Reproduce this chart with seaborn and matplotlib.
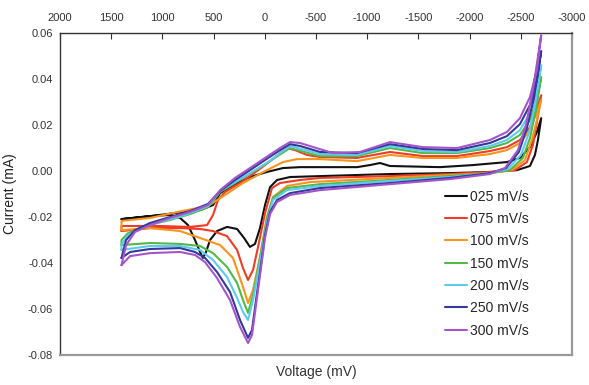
import pandas as pd
import matplotlib
matplotlib.use('Agg')
import matplotlib.pyplot as plt
import seaborn as sns
from matplotlib.ticker import FormatStrFormatter


RATES = ['025 mV/s', '075 mV/s', '100 mV/s', '150 mV/s', '200 mV/s', '250 mV/s', '300 mV/s']
COLORS = ['#111111', '#f03c26', '#f7941d', '#52b848', '#5ccbef', '#35379a', '#a356c8']

X_TICKS = [2000, 1500, 1000, 500, 0, -500, -1000, -1500, -2000, -2500, -3000]
Y_TICKS = [0.06, 0.04, 0.02, 0.00, -0.02, -0.04, -0.06, -0.08]

# (voltage mV, current mA), one closed loop per scan rate
LOOP_025 = [(1400, -0.0209), (1121, -0.0196), (926, -0.0191), (828, -0.0204), (750, -0.0235),
            (682, -0.0300), (633, -0.0352), (604, -0.0378), (574, -0.0352), (535, -0.0300),
            (467, -0.0261), (369, -0.0243), (271, -0.0252), (203, -0.0291), (145, -0.0330),
            (96, -0.0317), (47, -0.0248), (-2, -0.0148), (-51, -0.0070), (-119, -0.0039),
            (-246, -0.0026), (-539, -0.0022), (-1222, -0.0013), (-1809, -0.0009), (-2199, -0.0004),
            (-2463, 0.0004), (-2590, 0.0022), (-2639, 0.0070), (-2668, 0.0135), (-2700, 0.0230),
            (-2658, 0.0170), (-2590, 0.0104), (-2492, 0.0057), (-2365, 0.0039), (-2033, 0.0026),
            (-1711, 0.0017), (-1222, 0.0022), (-1125, 0.0035), (-1027, 0.0026), (-900, 0.0017),
            (-539, 0.0017), (-344, 0.0017), (-177, 0.0013), (-21, -0.0004), (145, -0.0026),
            (311, -0.0061), (437, -0.0096), (506, -0.0148), (633, -0.0170), (877, -0.0183),
            (1121, -0.0196), (1400, -0.0209)]

LOOP_075 = [(1400, -0.0261), (1121, -0.0248), (828, -0.0248), (633, -0.0252), (506, -0.0261),
            (369, -0.0283), (271, -0.0343), (213, -0.0422), (164, -0.0474), (115, -0.0430),
            (66, -0.0330), (-2, -0.0183), (-70, -0.0074), (-148, -0.0052), (-344, -0.0039),
            (-539, -0.0030), (-1222, -0.0022), (-1809, -0.0013), (-2199, -0.0004), (-2443, 0.0004),
            (-2560, 0.0039), (-2619, 0.0113), (-2658, 0.0213), (-2700, 0.0330),
            (-2658, 0.0274), (-2590, 0.0191), (-2492, 0.0135), (-2365, 0.0104), (-2199, 0.0087),
            (-1877, 0.0065), (-1545, 0.0065), (-1222, 0.0083), (-900, 0.0057), (-539, 0.0061),
            (-412, 0.0070), (-295, 0.0091), (-217, 0.0100), (-148, 0.0078), (-2, 0.0026),
            (145, -0.0022), (242, -0.0052), (389, -0.0091), (457, -0.0126), (506, -0.0191),
            (564, -0.0235), (730, -0.0243), (1023, -0.0239), (1400, -0.0239), (1400, -0.0261)]

LOOP_100 = [(1400, -0.0257), (1121, -0.0248), (828, -0.0261), (633, -0.0291), (437, -0.0322),
            (311, -0.0378), (213, -0.0504), (164, -0.0574), (115, -0.0517), (47, -0.0374),
            (-21, -0.0200), (-80, -0.0113), (-217, -0.0065), (-441, -0.0048), (-1222, -0.0030),
            (-1809, -0.0017), (-2199, -0.0009), (-2414, 0.0004), (-2541, 0.0048), (-2609, 0.0135),
            (-2658, 0.0222), (-2700, 0.0309),
            (-2658, 0.0257), (-2590, 0.0178), (-2492, 0.0122), (-2365, 0.0091), (-2199, 0.0074),
            (-1877, 0.0057), (-1545, 0.0057), (-1222, 0.0070), (-900, 0.0043), (-539, 0.0052),
            (-314, 0.0052), (-177, 0.0039), (-21, 0.0004), (213, -0.0052), (389, -0.0104),
            (555, -0.0152), (809, -0.0174), (1121, -0.0204), (1400, -0.0217), (1400, -0.0257)]

LOOP_150 = [(1400, -0.0322), (1121, -0.0313), (828, -0.0317), (633, -0.0326), (506, -0.0357),
            (369, -0.0417), (271, -0.0487), (213, -0.0561), (164, -0.0617), (115, -0.0539),
            (47, -0.0378), (-21, -0.0204), (-80, -0.0117), (-217, -0.0074), (-539, -0.0057),
            (-1222, -0.0039), (-1809, -0.0022), (-2199, -0.0009), (-2394, 0.0004), (-2521, 0.0057),
            (-2590, 0.0143), (-2648, 0.0265), (-2700, 0.0409),
            (-2658, 0.0317), (-2590, 0.0222), (-2492, 0.0157), (-2365, 0.0122), (-2199, 0.0100),
            (-1877, 0.0078), (-1545, 0.0078), (-1222, 0.0100), (-900, 0.0065), (-539, 0.0065),
            (-246, 0.0100), (-2, 0.0030), (242, -0.0039), (437, -0.0091), (555, -0.0157),
            (730, -0.0187), (926, -0.0213), (1170, -0.0239), (1336, -0.0270), (1400, -0.0300),
            (1400, -0.0322)]

LOOP_200 = [(1400, -0.0343), (1121, -0.0326), (828, -0.0326), (633, -0.0343), (506, -0.0387),
            (369, -0.0461), (271, -0.0552), (213, -0.0613), (164, -0.0648), (115, -0.0561),
            (47, -0.0396), (-21, -0.0222), (-80, -0.0126), (-217, -0.0083), (-539, -0.0065),
            (-1222, -0.0043), (-1809, -0.0026), (-2199, -0.0009), (-2375, 0.0009), (-2502, 0.0070),
            (-2580, 0.0165), (-2639, 0.0287), (-2700, 0.0461),
            (-2658, 0.0352), (-2590, 0.0252), (-2492, 0.0178), (-2365, 0.0135), (-2199, 0.0109),
            (-1877, 0.0083), (-1545, 0.0087), (-1222, 0.0109), (-900, 0.0070), (-539, 0.0074),
            (-246, 0.0109), (-2, 0.0030), (242, -0.0035), (437, -0.0087), (555, -0.0152),
            (779, -0.0191), (1023, -0.0222), (1219, -0.0248), (1346, -0.0283), (1400, -0.0322),
            (1400, -0.0343)]

LOOP_250 = [(1400, -0.0378), (1316, -0.0352), (1121, -0.0339), (828, -0.0335), (682, -0.0352),
            (584, -0.0378), (467, -0.0439), (340, -0.0526), (242, -0.0648), (164, -0.0726),
            (125, -0.0691), (86, -0.0561), (47, -0.0439), (-2, -0.0278), (-51, -0.0178),
            (-119, -0.0126), (-246, -0.0096), (-539, -0.0074), (-1222, -0.0052), (-1809, -0.0030),
            (-2199, -0.0009), (-2356, 0.0013), (-2482, 0.0083), (-2560, 0.0187), (-2629, 0.0317),
            (-2700, 0.0522),
            (-2658, 0.0396), (-2590, 0.0287), (-2492, 0.0204), (-2365, 0.0152), (-2199, 0.0122),
            (-1877, 0.0091), (-1545, 0.0096), (-1222, 0.0117), (-900, 0.0078), (-539, 0.0083),
            (-344, 0.0109), (-246, 0.0117), (-148, 0.0091), (-2, 0.0048), (145, 0.0004),
            (291, -0.0039), (437, -0.0087), (555, -0.0143), (730, -0.0174), (926, -0.0200),
            (1121, -0.0226), (1268, -0.0257), (1355, -0.0300), (1400, -0.0378)]

LOOP_300 = [(1400, -0.0409), (1316, -0.0370), (1121, -0.0357), (828, -0.0352), (682, -0.0365),
            (584, -0.0396), (467, -0.0465), (340, -0.0561), (242, -0.0678), (164, -0.0748),
            (125, -0.0713), (86, -0.0583), (47, -0.0452), (-2, -0.0291), (-51, -0.0187),
            (-119, -0.0135), (-246, -0.0104), (-539, -0.0083), (-1222, -0.0057), (-1809, -0.0035),
            (-2199, -0.0013), (-2346, 0.0013), (-2473, 0.0091), (-2551, 0.0200), (-2619, 0.0352),
            (-2700, 0.0591),
            (-2658, 0.0439), (-2590, 0.0322), (-2492, 0.0230), (-2365, 0.0170), (-2199, 0.0135),
            (-1877, 0.0100), (-1545, 0.0104), (-1222, 0.0126), (-930, 0.0083), (-666, 0.0078),
            (-344, 0.0122), (-246, 0.0126), (-148, 0.0100), (-2, 0.0057), (145, 0.0013),
            (291, -0.0030), (437, -0.0083), (555, -0.0148), (730, -0.0178), (926, -0.0204),
            (1121, -0.0235), (1268, -0.0265), (1355, -0.0322), (1400, -0.0409)]

LOOPS = [LOOP_025, LOOP_075, LOOP_100, LOOP_150, LOOP_200, LOOP_250, LOOP_300]


def build_frame():
    """
    Long table of every loop, keeping the point order of each scan
    """
    parts = []
    for rate, loop in zip(RATES, LOOPS):
        part = pd.DataFrame(loop, columns=['voltage', 'current'])
        part['rate'] = rate
        parts.append(part)
    return pd.concat(parts, ignore_index=True)


sns.set_style('white')
plt.rcParams['font.family'] = ['Liberation Sans', 'DejaVu Sans']
plt.rcParams['axes.unicode_minus'] = False

df = build_frame()

fig = plt.figure(figsize=(5.89, 3.85), dpi=100)
ax = fig.add_axes([0.102, 0.078, 0.869, 0.836])

sns.lineplot(data=df, x='voltage', y='current', hue='rate', hue_order=RATES,
             palette=dict(zip(RATES, COLORS)), sort=False, estimator=None,
             linewidth=1.5, ax=ax)

ax.set_xlim(2000, -3000)
ax.set_ylim(-0.08, 0.06)
ax.set_xticks(X_TICKS)
ax.set_xticklabels([str(t) for t in X_TICKS])
ax.set_yticks(Y_TICKS)
ax.yaxis.set_major_formatter(FormatStrFormatter('%.2f'))

ax.xaxis.tick_top()
ax.tick_params(axis='x', direction='in', length=4, width=0.8, pad=7, labelsize=8, colors='#333333')
ax.tick_params(axis='y', direction='out', length=3, width=0.8, pad=2, labelsize=8, colors='#333333')

ax.set_xlabel('Voltage (mV)', fontsize=10, color='#333333', labelpad=7)
ax.xaxis.set_label_position('bottom')
ax.set_ylabel('Current (mA)', fontsize=10, color='#222222', labelpad=8)

for side in ['left', 'top']:
    ax.spines[side].set_color('#333333')
    ax.spines[side].set_linewidth(1.0)
for side in ['right', 'bottom']:
    ax.spines[side].set_color('#999999')
    ax.spines[side].set_linewidth(1.6)

ax.legend(loc='lower right', bbox_to_anchor=(0.94, 0.015), frameon=False, fontsize=10,
          handlelength=1.6, handletextpad=0.2, labelspacing=0.6)

fig.savefig('out.png', dpi=100)
